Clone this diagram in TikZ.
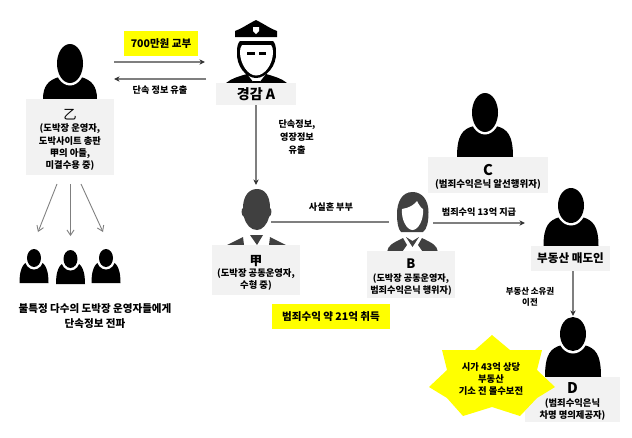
\documentclass[tikz,border=0pt]{standalone}
\usepackage{fontspec}
\setmainfont{Noto Sans CJK KR}
\usetikzlibrary{arrows.meta}
\definecolor{boxgray}{HTML}{F2F2F2}
\definecolor{linegray}{HTML}{7F7F7F}
\definecolor{darkfig}{HTML}{404040}
\definecolor{markyellow}{HTML}{FFFF00}
\newcommand{\fz}[2]{\fontsize{#1}{#2}\selectfont\bfseries}
\newcommand{\fr}[2]{\fontsize{#1}{#2}\selectfont\mdseries}
\newcommand{\personfig}[6]{% cx, base, head top, head bottom, half width, head rx
  \pgfmathsetmacro{\hc}{(#3+#4)/2}\pgfmathsetmacro{\hrad}{(#4-#3)/2}
  \pgfmathsetmacro{\sty}{#4-6}\pgfmathsetmacro{\hwd}{#5}
  \fill[black] (#1-\hwd,#2) .. controls (#1-\hwd,\sty+9) and (#1-\hwd*0.8,\sty+3) .. (#1-\hwd*0.4,\sty)
    -- (#1+\hwd*0.4,\sty) .. controls (#1+\hwd*0.8,\sty+3) and (#1+\hwd,\sty+9) .. (#1+\hwd,#2) -- cycle;
  \fill[white] (#1,\hc) ellipse [x radius=#6+2.5,y radius=\hrad+2.5];
  \fill[black] (#1,\hc) ellipse [x radius=#6,y radius=\hrad];
}
\tikzset{
  graybox/.style={fill=boxgray,inner sep=0pt,align=center,text=black},
  markbox/.style={fill=markyellow,inner sep=0pt,align=center,text=black,font=\fz{6}{8}},
  lbl/.style={inner sep=0pt,align=center,text=black,font=\fz{5.2}{7}},
  conn/.style={draw=linegray,line width=0.6pt,-{Stealth[length=3.2pt,width=3pt,color=black!80]}},
  openconn/.style={draw=linegray,line width=0.5pt,-{Straight Barb[length=3pt,width=4pt]}},
  plainconn/.style={draw=linegray,line width=0.8pt}
}
\begin{document}
\begin{tikzpicture}[x=0.02cm,y=-0.02cm]
\useasboundingbox (0,0) rectangle (632,437);
\fill[white] (0,0) rectangle (632,437);

% figures
\personfig{70}{99}{44}{83}{27}{13}
\personfig{34}{283}{249}{267}{14.5}{7}
\personfig{70.5}{284}{250}{268}{14.5}{7}
\personfig{106}{283}{249}{267}{14.5}{7}
\personfig{485}{157}{93}{132}{28}{13}
\personfig{571}{246}{188}{223}{27.5}{13}
\personfig{573}{377}{317}{351}{28}{13}

% police officer
\fill[black] (226,83) .. controls (232,78) and (240,76) .. (247,74) -- (254,83) -- cycle;
\fill[black] (287,83) .. controls (281,78) and (273,76) .. (266,74) -- (259,83) -- cycle;
\fill[black] (253,81) rectangle (260,83);
\fill[black] (237,52) .. controls (236,66) and (246,78) .. (256,78) .. controls (266,78) and (277,66) .. (276,52) .. controls (276,46) and (275,43) .. (273,41) -- (240,41) .. controls (238,43) and (237,46) .. (237,52) -- cycle;
\fill[white] (240,52) .. controls (240,64) and (248,75.5) .. (256,75.5) .. controls (265,75.5) and (273,64) .. (273,52) .. controls (273,49) and (272.5,47) .. (271,45) -- (242,45) .. controls (240.5,47) and (240,49) .. (240,52) -- cycle;
\fill[black] (235,37) -- (235,31) .. controls (241,29) and (248,24) .. (256,20) .. controls (264,24) and (271,29) .. (277,31) -- (277,37) -- cycle;
\fill[white] (253,27) -- (259,27) -- (259,31) -- (256,34) -- (253,31) -- cycle;
\fill[black] (247,51.5) rectangle (254.5,54.5);
\fill[black] (258.5,51.5) rectangle (265.5,54.5);

% man
\fill[darkfig] (243,208) .. controls (243,196) and (249,189) .. (257,189) .. controls (265,189) and (270,196) .. (270,208) .. controls (272,208) and (272,216) .. (269,217) .. controls (267,225) and (262,230) .. (257,230) .. controls (251,230) and (246,225) .. (244,217) .. controls (241,216) and (241,208) .. (243,208) -- cycle;
\fill[darkfig] (227,245) -- (243,237) -- (244,245) -- cycle;
\fill[darkfig] (286,245) -- (270,237) -- (269,245) -- cycle;
\fill[darkfig] (250,235) -- (263,235) -- (257,245) -- cycle;

% woman
\fill[darkfig] (412.5,192) .. controls (402,192) and (397,202) .. (397,214) .. controls (397,222) and (398,229) .. (401,232) -- (423,232) .. controls (427,229) and (428.5,222) .. (428.5,212) .. controls (428.5,200) and (422,192) .. (412.5,192) -- cycle;
\fill[white] (402,209) .. controls (409,208) and (414,205) .. (417,201) .. controls (419,205) and (421,208) .. (423,209) .. controls (424,220) and (418,230) .. (412.5,230) .. controls (407,230) and (401,220) .. (402,209) -- cycle;
\fill[darkfig] (387,252) .. controls (388,245) and (393,243) .. (403,238) -- (407,245) -- (402,252) -- cycle;
\fill[darkfig] (438,252) .. controls (437,245) and (432,243) .. (422,238) -- (418,245) -- (423,252) -- cycle;
\fill[darkfig] (406,237) -- (412.5,241) -- (419,237) -- (412.5,247) -- cycle;

% boxes
\node[graybox,minimum width=1.76cm,minimum height=1.52cm,font=\fz{5.3}{7}] (yi) at (70,137) {\fr{7.6}{8.4}\rule{0pt}{9.3pt}乙\\(도박장 운영자,\\도박사이트 총판\\甲의 아들,\\미결수용 중)};
\node[graybox,minimum width=1.6cm,minimum height=0.44cm,font=\fz{8}{10}] (a) at (256,94) {경감 A};
\node[graybox,minimum width=1.76cm,minimum height=1cm,font=\fz{5.3}{6.8}] (jia) at (256,270) {\fz{7.2}{9}\rule{0pt}{9pt}甲\\(도박장 공동운영자,\\수형 중)};
\node[graybox,minimum width=1.76cm,minimum height=0.94cm,font=\fz{5.2}{7.2}] (b) at (411,274.5) {\fz{7.4}{8.4}\rule{0pt}{8.8pt}B\\(도박장 공동운영자,\\범죄수익은닉 행위자)};
\node[graybox,minimum width=2.4cm,minimum height=0.72cm,font=\fz{5.4}{7}] (c) at (488,175) {\fz{8.4}{8.4}\rule{0pt}{8.5pt}C\\(범죄수익은닉 알선행위자)};
\node[graybox,minimum width=1.58cm,minimum height=0.5cm,font=\fz{6.6}{8}] (seller) at (570.5,258.5) {부동산 매도인};
\node[graybox,minimum width=1.9cm,minimum height=0.9cm,font=\fz{5.3}{7.2}] (d) at (572.5,399.5) {\fz{8.4}{8.6}\rule{0pt}{8.5pt}D\\(범죄수익은닉\\차명 명의제공자)};

% highlight boxes
\node[markbox,minimum width=1.48cm,minimum height=0.5cm] (pay) at (161,43.5) {700만원 교부};
\node[markbox,minimum width=2.36cm,minimum height=0.5cm] (gain) at (331,316.5) {범죄수익 약 21억 취득};

% star
\fill[markyellow] (492,335) -- (510,350) -- (542,350) -- (537,370) -- (555,387) -- (537,398) -- (520,416) -- (492,407) -- (463,416) -- (447,398) -- (429,387) -- (447,370) -- (442,350) -- (475,350) -- cycle;
\node[lbl,font=\fz{5.3}{6.9}] (seize) at (491,379) {시가 43억 상당\\부동산\\기소 전 몰수보전};

% connector ends
\coordinate (p1s) at (114,62); \coordinate (p1e) at (205,62);
\coordinate (p2s) at (206,79); \coordinate (p2e) at (114,79);
\coordinate (f1s) at (57,184); \coordinate (f1e) at (38,232);
\coordinate (f2s) at (70.5,184); \coordinate (f2e) at (70.5,236);
\coordinate (f3s) at (81,184); \coordinate (f3e) at (103,232);
\coordinate (ae) at (256,185);
\coordinate (m1) at (271,222); \coordinate (m2) at (389,222);
\coordinate (t1) at (433,223); \coordinate (t2) at (525,223);
\coordinate (de) at (573,316);

\draw[conn] (p1s) -- (p1e);
\draw[conn] (p2s) -- (p2e);
\draw[openconn] (f1s) -- (f1e);
\draw[openconn] (f2s) -- (f2e);
\draw[openconn] (f3s) -- (f3e);
\draw[conn] (a.south) -- (ae);
\draw[plainconn] (m1) -- (m2);
\draw[conn] (t1) -- (t2);
\draw[conn] (seller.south -| de) -- (de);

% labels
\node[lbl] (l1) at (160,90) {단속 정보 유출};
\node[lbl,font=\fz{5.2}{7.2}] (l2) at (297,137) {단속정보,\\영장정보\\유출};
\node[lbl] (l3) at (331,207) {사실혼 부부};
\node[lbl] (l4) at (479,212) {범죄수익 13억 지급};
\node[lbl,font=\fz{4.8}{6.4}] (l5) at (530,296.5) {부동산 소유권\\이전};
\node[lbl,font=\fz{6}{8.6}] (l6) at (95,316) {불특정 다수의 도박장 운영자들에게\\단속정보 전파};
\end{tikzpicture}
\end{document}
